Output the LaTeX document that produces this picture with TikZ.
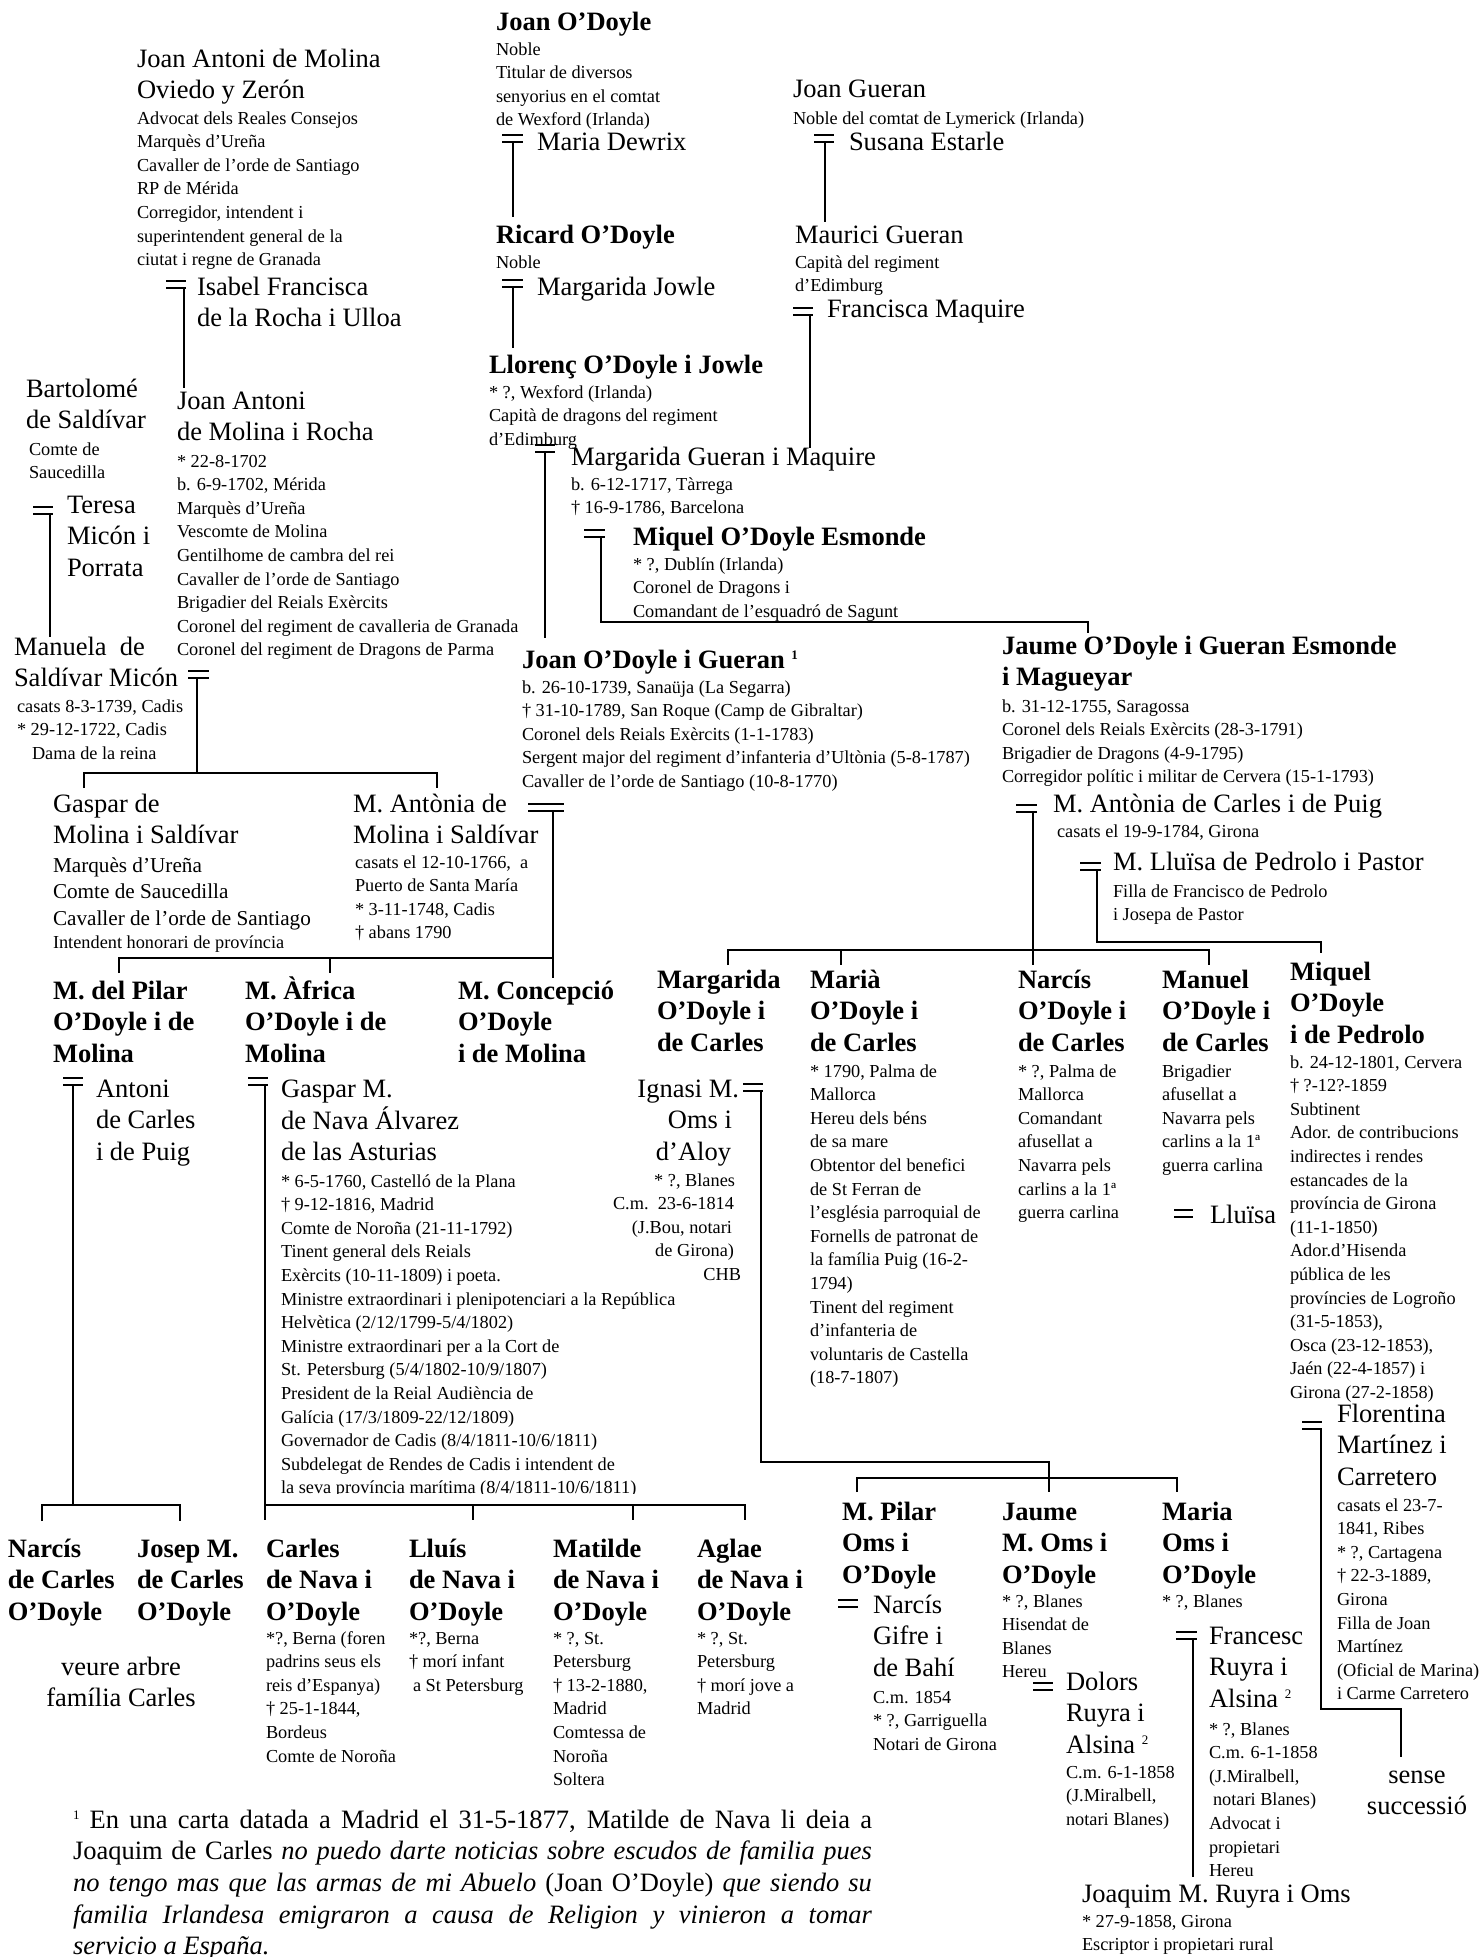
\documentclass[tikz,border=0pt]{standalone}
\usepackage{fontspec}
\setmainfont{Liberation Serif}
\usetikzlibrary{calc}
\newcommand\mysup[1]{\raisebox{9pt}{\fontsize{13}{13}\selectfont #1}}
\newcommand\marr[3]{\draw[bar] (#1,#2) -- ++(#3,0);\draw[bar] (#1,#2+7) -- ++(#3,0);}
\newcommand\tnodeL[4]{\node[#1] (#2) at (#3) {\begin{tabular}[t]{@{}l@{}}#4\end{tabular}};}
\newcommand\tnodeR[4]{\node[#1,anchor=base east] (#2) at (#3) {\begin{tabular}[t]{@{}r@{}}#4\end{tabular}};}
\newcommand\tnodeC[4]{\node[#1,anchor=base] (#2) at (#3) {\begin{tabular}[t]{@{}c@{}}#4\end{tabular}};}
\begin{document}
\begin{tikzpicture}[x=1pt,y=-1pt,
  every node/.style={inner sep=0pt,outer sep=0pt,anchor=base west},
  big/.style={font=\fontsize{26.5}{31.7}\selectfont},
  bigb/.style={font=\fontsize{26.5}{31.7}\selectfont\bfseries},
  sm/.style={font=\fontsize{18.3}{23.6}\selectfont},
  md/.style={font=\fontsize{21.2}{26.5}\selectfont},
  link/.style={line width=1.8pt},
  bar/.style={line width=1.6pt}]
\useasboundingbox (0,0) rectangle (1481,1957);
\clip (0,0) rectangle (1481,1957);

% ---------- O'Doyle ancestors ----------
\tnodeL{bigb}{jod}{496,30}{Joan O’Doyle}
\tnodeL{sm}{jodd}{496,55}{Noble\\Titular de diversos\\senyorius en el comtat\\de Wexford (Irlanda)}
\tnodeL{big}{mdw}{537,150}{Maria Dewrix}
\tnodeL{bigb}{rod}{496,243}{Ricard O’Doyle}
\tnodeL{sm}{rodd}{496,268}{Noble}
\tnodeL{big}{mjw}{537,295}{Margarida Jowle}
\tnodeL{bigb}{llo}{489,373}{Llorenç O’Doyle i Jowle}
\tnodeL{sm}{llod}{489,398}{* ?, Wexford (Irlanda)\\Capità de dragons del regiment\\d’Edimburg}
\tnodeL{big}{mgu}{571,465}{Margarida Gueran i Maquire}
\tnodeL{sm}{mgud}{571,490}{b. 6-12-1717, Tàrrega\\† 16-9-1786, Barcelona}
\tnodeL{bigb}{mes}{633,545}{Miquel O’Doyle Esmonde}
\tnodeL{sm}{mesd}{633,570}{* ?, Dublín (Irlanda)\\Coronel de Dragons i\\Comandant de l’esquadró de Sagunt}

% ---------- Gueran ----------
\tnodeL{big}{jgu}{793,97}{Joan Gueran}
\tnodeL{sm}{jgud}{793,124}{Noble del comtat de Lymerick (Irlanda)}
\tnodeL{big}{ses}{849,150}{Susana Estarle}
\tnodeL{big}{mau}{795,243}{Maurici Gueran}
\tnodeL{sm}{maud}{795,268}{Capità del regiment\\d’Edimburg}
\tnodeL{big}{fmq}{827,317}{Francisca Maquire}

% ---------- Molina ----------
\tnodeL{big}{jam}{137,67}{Joan Antoni de Molina\\Oviedo y Zerón}
\tnodeL{sm}{jamd}{137,124}{Advocat dels Reales Consejos\\Marquès d’Ureña\\Cavaller de l’orde de Santiago\\RP de Mérida\\Corregidor, intendent i\\superintendent general de la\\ciutat i regne de Granada}
\tnodeL{big}{isf}{197,295}{Isabel Francisca\\de la Rocha i Ulloa}
\tnodeL{big}{bsa}{26,397}{Bartolomé\\de Saldívar}
\tnodeL{sm}{bsad}{29,455}{Comte de\\Saucedilla}
\tnodeL{big}{jar}{177,409}{Joan Antoni\\de Molina i Rocha}
\tnodeL{sm}{jard}{177,467}{* 22-8-1702\\b. 6-9-1702, Mérida\\Marquès d’Ureña\\Vescomte de Molina\\Gentilhome de cambra del rei\\Cavaller de l’orde de Santiago\\Brigadier del Reials Exèrcits\\Coronel del regiment de cavalleria de Granada\\Coronel del regiment de Dragons de Parma}
\tnodeL{big}{tmp}{67,513}{Teresa\\Micón i\\Porrata}
\tnodeL{big}{msm}{14,655}{Manuela\ \ de\\Saldívar Micón}
\tnodeL{sm}{msmd}{17,712}{casats 8-3-1739, Cadis\\{}* 29-12-1722, Cadis\\\hspace*{15pt}Dama de la reina}
\tnodeL{big}{gmo}{53,812}{Gaspar de\\Molina i Saldívar}
\tnodeL{md}{gmod}{53,872}{Marquès d’Ureña\\Comte de Saucedilla\\Cavaller de l’orde de Santiago}
\tnodeL{sm}{gmoe}{53,948}{Intendent honorari de província}
\tnodeL{big}{mam}{353,812}{M. Antònia de\\Molina i Saldívar}
\tnodeL{sm}{mamd}{355,868}{casats el 12-10-1766,\ \ a\\Puerto de Santa María\\{}* 3-11-1748, Cadis\\† abans 1790}

% ---------- Joan O'Doyle i Gueran / Jaume ----------
\tnodeL{bigb}{jog}{522,668}{Joan O’Doyle i Gueran \mysup{1}}
\tnodeL{sm}{jogd}{522,693}{b. 26-10-1739, Sanaüja (La Segarra)\\† 31-10-1789, San Roque (Camp de Gibraltar)\\Coronel dels Reials Exèrcits (1-1-1783)\\Sergent major del regiment d’infanteria d’Ultònia (5-8-1787)\\Cavaller de l’orde de Santiago (10-8-1770)}
\tnodeL{bigb}{jau}{1002,654}{Jaume O’Doyle i Gueran Esmonde\\i Magueyar}
\tnodeL{sm}{jaud}{1002,712}{b. 31-12-1755, Saragossa\\Coronel dels Reials Exèrcits (28-3-1791)\\Brigadier de Dragons (4-9-1795)\\Corregidor polític i militar de Cervera (15-1-1793)}
\tnodeL{big}{mac}{1053,812}{M. Antònia de Carles i de Puig}
\tnodeL{sm}{macd}{1057,837}{casats el 19-9-1784, Girona}
\tnodeL{big}{mlp}{1113,870}{M. Lluïsa de Pedrolo i Pastor}
\tnodeL{sm}{mlpd}{1113,897}{Filla de Francisco de Pedrolo\\i Josepa de Pastor}

% ---------- children row ----------
\tnodeL{bigb}{mpi}{53,999}{M. del Pilar\\O’Doyle i de\\Molina}
\tnodeL{bigb}{maf}{245,999}{M. Àfrica\\O’Doyle i de\\Molina}
\tnodeL{bigb}{mco}{458,999}{M. Concepció\\O’Doyle\\i de Molina}
\tnodeL{big}{acp}{96,1097}{Antoni\\de Carles\\i de Puig}
\tnodeL{big}{gna}{281,1097}{Gaspar M.\\de Nava Álvarez\\de las Asturias}
\tnodeL{sm}{gnad}{281,1187}{* 6-5-1760, Castelló de la Plana\\† 9-12-1816, Madrid\\Comte de Noroña (21-11-1792)\\Tinent general dels Reials\\Exèrcits (10-11-1809) i poeta.\\Ministre extraordinari i plenipotenciari a la República\\Helvètica (2/12/1799-5/4/1802)\\Ministre extraordinari per a la Cort de\\St. Petersburg (5/4/1802-10/9/1807)\\President de la Reial Audiència de\\Galícia (17/3/1809-22/12/1809)\\Governador de Cadis (8/4/1811-10/6/1811)\\Subdelegat de Rendes de Cadis i intendent de\\la seva província marítima (8/4/1811-10/6/1811)}
\fill[white] (272,1494) rectangle (700,1503);

\tnodeL{bigb}{mar}{657,988}{Margarida\\O’Doyle i\\de Carles}
\tnodeR{big}{ign}{739,1097}{Ignasi M.\\Oms i\kern7pt\\d’Aloy\kern8pt}
\tnodeR{sm}{ignd}{741,1186}{* ?, Blanes\kern6pt\\C.m.\ \ 23-6-1814\kern7pt\\(J.Bou, notari\kern9pt\\de Girona)\kern7pt\\CHB}
\tnodeL{bigb}{mri}{810,988}{Marià\\O’Doyle i\\de Carles}
\tnodeL{sm}{mrid}{810,1077}{* 1790, Palma de\\Mallorca\\Hereu dels béns\\de sa mare\\Obtentor del benefici\\de St Ferran de\\l’església parroquial de\\Fornells de patronat de\\la família Puig (16-2-\\1794)\\Tinent del regiment\\d’infanteria de\\voluntaris de Castella\\(18-7-1807)}
\tnodeL{bigb}{nar}{1018,988}{Narcís\\O’Doyle i\\de Carles}
\tnodeL{sm}{nard}{1018,1077}{* ?, Palma de\\Mallorca\\Comandant\\afusellat a\\Navarra pels\\carlins a la 1ª\\guerra carlina}
\tnodeL{bigb}{man}{1162,988}{Manuel\\O’Doyle i\\de Carles}
\tnodeL{sm}{mand}{1162,1077}{Brigadier\\afusellat a\\Navarra pels\\carlins a la 1ª\\guerra carlina}
\tnodeL{big}{llu}{1210,1223}{Lluïsa}
\tnodeL{bigb}{mqp}{1290,980}{Miquel\\O’Doyle\\i de Pedrolo}
\tnodeL{sm}{mqpd}{1290,1068}{b. 24-12-1801, Cervera\\† ?-12?-1859\\Subtinent\\Ador. de contribucions\\indirectes i rendes\\estancades de la\\província de Girona\\(11-1-1850)\\Ador.d’Hisenda\\pública de les\\províncies de Logroño\\(31-5-1853),\\Osca (23-12-1853),\\Jaén (22-4-1857) i\\Girona (27-2-1858)}
\tnodeL{big}{fmc}{1337,1422}{Florentina\\Martínez i\\Carretero}
\tnodeL{sm}{fmcd}{1337,1511}{casats el 23-7-\\1841, Ribes\\{}* ?, Cartagena\\† 22-3-1889,\\Girona\\Filla de Joan\\Martínez\\(Oficial de Marina)\\i Carme Carretero}
\tnodeC{big}{ssu}{1417,1783}{sense\\successió}

% ---------- grandchildren ----------
\tnodeL{bigb}{ncd}{8,1557}{Narcís\\de Carles\\O’Doyle}
\tnodeL{bigb}{jcd}{137,1557}{Josep M.\\de Carles\\O’Doyle}
\tnodeC{big}{vaf}{121,1675}{veure arbre\\família Carles}
\tnodeL{bigb}{cno}{266,1557}{Carles\\de Nava i\\O’Doyle}
\tnodeL{sm}{cnod}{266,1644}{*?, Berna (foren\\padrins seus els\\reis d’Espanya)\\† 25-1-1844,\\Bordeus\\Comte de Noroña}
\tnodeL{bigb}{lno}{409,1557}{Lluís\\de Nava i\\O’Doyle}
\tnodeL{sm}{lnod}{409,1644}{*?, Berna\\† morí infant\\\hspace*{4pt}a St Petersburg}
\tnodeL{bigb}{mno}{553,1557}{Matilde\\de Nava i\\O’Doyle}
\tnodeL{sm}{mnod}{553,1644}{* ?, St.\\Petersburg\\† 13-2-1880,\\Madrid\\Comtessa de\\Noroña\\Soltera}
\tnodeL{bigb}{ano}{697,1557}{Aglae\\de Nava i\\O’Doyle}
\tnodeL{sm}{anod}{697,1644}{* ?, St.\\Petersburg\\† morí jove a\\Madrid}

\tnodeL{bigb}{mpo}{842,1520}{M. Pilar\\Oms i\\O’Doyle}
\tnodeL{big}{ngb}{873,1613}{Narcís\\Gifre i\\de Bahí}
\tnodeL{sm}{ngbd}{873,1703}{C.m. 1854\\{}* ?, Garriguella\\Notari de Girona}
\tnodeL{bigb}{jmo}{1002,1520}{Jaume\\M. Oms i\\O’Doyle}
\tnodeL{sm}{jmod}{1002,1607}{* ?, Blanes\\Hisendat de\\Blanes\\Hereu}
\tnodeL{big}{dra}{1066,1690}{Dolors\\Ruyra i\\Alsina \mysup{2}}
\tnodeL{sm}{drad}{1066,1778}{C.m. 6-1-1858\\(J.Miralbell,\\notari Blanes)}
\tnodeL{bigb}{moo}{1162,1520}{Maria\\Oms i\\O’Doyle}
\tnodeL{sm}{mood}{1162,1607}{* ?, Blanes}
\tnodeL{big}{fra}{1209,1644}{Francesc\\Ruyra i\\Alsina \mysup{2}}
\tnodeL{sm}{frad}{1209,1735}{* ?, Blanes\\C.m. 6-1-1858\\(J.Miralbell,\\\hspace*{4pt}notari Blanes)\\Advocat i\\propietari\\Hereu}
\tnodeL{big}{jro}{1082,1902}{Joaquim M. Ruyra i Oms}
\tnodeL{sm}{jrod}{1082,1927}{* 27-9-1858, Girona\\Escriptor i propietari rural}

% ---------- footnote ----------
\tnodeL{big}{fn}{73,1828}{\makebox[799pt][s]{\mysup{1} En una carta datada a Madrid el 31-5-1877, Matilde de Nava li deia a}\\\makebox[799pt][s]{Joaquim de Carles \textit{no puedo darte noticias sobre escudos de familia pues}}\\\makebox[799pt][s]{\textit{no tengo mas que las armas de mi Abuelo} (Joan O’Doyle) \textit{que siendo su}}\\\makebox[799pt][s]{\textit{familia Irlandesa emigraron a causa de Religion y vinieron a tomar}}\\\textit{servicio a España.}}

% ---------- marriage signs ----------
\marr{502}{135}{21}
\marr{502}{280}{21}
\marr{535}{445}{20}
\marr{814}{135}{20}
\marr{793}{308}{20}
\marr{584}{530}{21}
\marr{166}{281}{20}
\marr{33}{507}{20}
\marr{188}{671}{21}
\marr{528}{804}{36}
\marr{1016}{805}{21}
\marr{1080}{863}{21}
\marr{63}{1078}{20}
\marr{248}{1078}{20}
\marr{743}{1084}{20}
\marr{1302}{1422}{20}
\marr{1174}{1210}{19}
\marr{838}{1600}{20}
\marr{1033}{1683}{20}
\marr{1176}{1632}{21}

% ---------- connectors ----------
\coordinate (v1) at (513,142);
\draw[link] (v1) -- ($(v1 |- rod.base)+(0,-26)$);
\coordinate (v2) at (513,287);
\draw[link] (v2) -- ($(v2 |- llo.base)+(0,-25)$);
\coordinate (v3) at (545,452);
\draw[link] (v3) -- ($(v3 |- jog.base)+(0,-30)$);
\coordinate (v4) at (825,142);
\draw[link] (v4) -- ($(v4 |- mau.base)+(0,-21)$);
\coordinate (v5) at (810,315);
\draw[link] (v5) -- ($(v5 |- mgu.base)+(0,-17)$);
\coordinate (v6) at (601,537); \coordinate (k6) at (1088,622);
\draw[link] (v6) |- (k6) -- ($(k6 |- jau.base)+(0,-21)$);
\coordinate (v7) at (184,288);
\draw[link] (v7) -- ($(v7 |- jar.base)+(0,-21)$);
\coordinate (v8) at (50,514);
\draw[link] (v8) -- ($(v8 |- msm.base)+(0,-18)$);
\coordinate (v9) at (197,678); \coordinate (h9) at (197,773);
\coordinate (h9a) at (84,773); \coordinate (h9b) at (437,773);
\draw[link] (v9) -- (h9);
\draw[link] ($(h9a |- gmo.base)+(0,-24)$) |- (h9b) -- ($(h9b |- mam.base)+(0,-24)$);
\coordinate (v10) at (553,811); \coordinate (h10a) at (119,958); \coordinate (h10b) at (330,958);
\draw[link] (v10) -- ($(v10 |- mco.base)+(0,-21)$);
\draw[link] ($(h10a |- mpi.base)+(0,-26)$) |- (v10 |- h10a);
\draw[link] (h10b) -- ($(h10b |- maf.base)+(0,-26)$);
\coordinate (v11) at (1033,812); \coordinate (h11a) at (728,950);
\coordinate (h11b) at (841,950); \coordinate (h11c) at (1209,950);
\draw[link] (v11) -- ($(v11 |- nar.base)+(0,-23)$);
\draw[link] ($(h11a |- mar.base)+(0,-23)$) |- (h11c) -- ($(h11c |- man.base)+(0,-23)$);
\draw[link] (h11b) -- ($(h11b |- mri.base)+(0,-23)$);
\coordinate (v12) at (1097,870); \coordinate (k12) at (1321,942);
\draw[link] (v12) |- (k12) -- ($(k12 |- mqp.base)+(0,-27)$);
\coordinate (v13) at (73,1085); \coordinate (h13) at (73,1505);
\coordinate (h13a) at (42,1505); \coordinate (h13b) at (180,1505);
\draw[link] (v13) -- (h13);
\draw[link] ($(h13a |- ncd.base)+(0,-36)$) |- (h13b) -- ($(h13b |- jcd.base)+(0,-36)$);
\coordinate (v14) at (265,1085); \coordinate (h14a) at (473,1505);
\coordinate (h14b) at (633,1505); \coordinate (h14c) at (745,1505);
\draw[link] (v14) -- ($(v14 |- cno.base)+(0,-37)$);
\draw[link] (v14 |- h14a) -- (h14c) -- ($(h14c |- ano.base)+(0,-37)$);
\draw[link] (h14a) -- ($(h14a |- lno.base)+(0,-37)$);
\draw[link] (h14b) -- ($(h14b |- mno.base)+(0,-37)$);
\coordinate (v15) at (761,1091); \coordinate (k15) at (1049,1462);
\coordinate (h15a) at (857,1478); \coordinate (h15b) at (1177,1478);
\draw[link] (v15) |- (k15) -- ($(k15 |- jmo.base)+(0,-28)$);
\draw[link] ($(h15a |- mpo.base)+(0,-28)$) |- (h15b) -- ($(h15b |- moo.base)+(0,-28)$);
\coordinate (v16) at (1321,1429); \coordinate (k16) at (1401,1709);
\draw[link] (v16) |- (k16) -- ($(k16 |- ssu.base)+(0,-26)$);
\coordinate (v20) at (1193,1639);
\draw[link] (v20) -- ($(v20 |- jro.base)+(0,-25)$);
\end{tikzpicture}
\end{document}
